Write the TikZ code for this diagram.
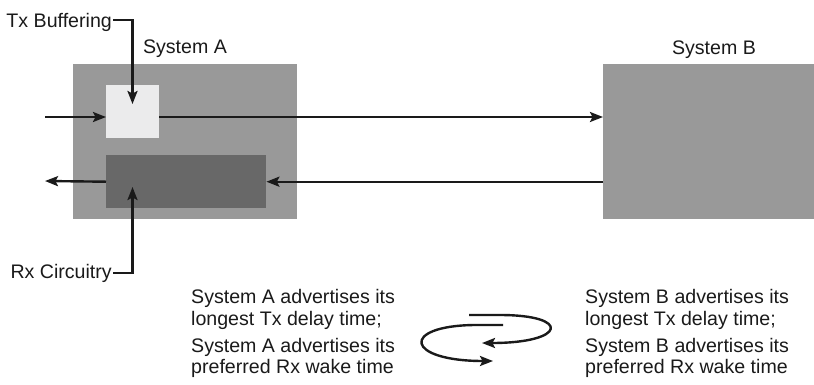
\documentclass[tikz,border=0pt]{standalone}
\usepackage{fontspec}
\setmainfont{Liberation Sans}
\usetikzlibrary{arrows.meta,calc}
\definecolor{sysgray}{HTML}{999999}
\definecolor{bufgray}{HTML}{EBEBEC}
\definecolor{rxgray}{HTML}{686868}
\definecolor{ink}{HTML}{1A1A1A}
\begin{document}
\begin{tikzpicture}[x=1pt,y=-1pt,
  lbl/.style={font=\fontsize{19.6}{21}\selectfont, text=ink, inner sep=0pt},
  box/.style={draw=none, inner sep=0pt, anchor=north west},
  conn/.style={draw=ink, line width=2.4pt, -{Stealth[length=13pt,width=10pt,inset=2.5pt]}}]
\useasboundingbox (0,0) rectangle (814,384);
% boxes
\node[box, fill=sysgray, minimum width=224pt, minimum height=155pt] (sysA) at (73,64) {};
\node[box, fill=sysgray, minimum width=211pt, minimum height=155pt] (sysB) at (603,64) {};
\node[box, fill=bufgray, minimum width=53pt, minimum height=53pt] (txb) at (106,85) {};
\node[box, fill=rxgray, minimum width=160pt, minimum height=53pt] (rxc) at (106,155) {};
% labels
\node[lbl, anchor=base] (labA) at (185,53) {System A};
\node[lbl, anchor=base] (labB) at (714,54) {System B};
\node[lbl, anchor=base east] (txl) at (112,27) {Tx Buffering};
\node[lbl, anchor=base east] (rxl) at (112,278) {Rx Circuitry};
% free ends
\coordinate (inA) at (45,117);
\coordinate (outA) at (45,181);
\coordinate (txtip) at (132.5,104);
\coordinate (rxtip) at (132.5,187);
% connectors
\draw[conn] (inA) -- (inA -| txb.west);
\draw[conn] (inA -| txb.east) -- (inA -| sysB.west);
\draw[conn] (sysB.west |- rxc.east) -- (rxc.east);
\draw[conn] (rxc.west) -- (outA);
\draw[conn] ([xshift=1pt,yshift=7pt]txl.base east) -| (txtip);
\draw[conn] ([xshift=1pt,yshift=5pt]rxl.base east) -| (rxtip);
% exchange arrows
\draw[conn] (469,315) -- (500,315) .. controls (572,315) and (566,343) .. (482,343);
\draw[conn] (503,325) -- (474,325) .. controls (400,326) and (405,361) .. (493,361);
% bottom texts
\node[lbl, anchor=base west] (a1) at (191,303) {System A advertises its};
\node[lbl, anchor=base west] (a2) at (191,325) {longest Tx delay time;};
\node[lbl, anchor=base west] (a3) at (191,352) {System A advertises its};
\node[lbl, anchor=base west] (a4) at (191,373) {preferred Rx wake time};
\node[lbl, anchor=base west] (b1) at (585,303) {System B advertises its};
\node[lbl, anchor=base west] (b2) at (585,325) {longest Tx delay time;};
\node[lbl, anchor=base west] (b3) at (585,352) {System B advertises its};
\node[lbl, anchor=base west] (b4) at (585,373) {preferred Rx wake time};
\end{tikzpicture}
\end{document}
